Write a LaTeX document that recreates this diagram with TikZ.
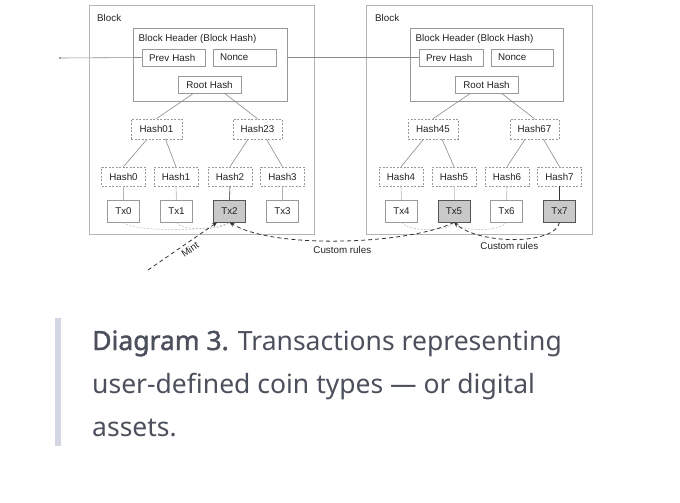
\documentclass[tikz,border=0pt]{standalone}
\usepackage{fontspec}
\setmainfont{Liberation Sans}
\newfontfamily\capfont{Noto Sans}
\newfontfamily\capboldfont{Noto Sans}[FakeBold=1.6]
\usetikzlibrary{calc,arrows.meta}
\definecolor{blkc}{HTML}{B4B4B4}
\definecolor{boxc}{HTML}{9A9A9A}
\definecolor{txtc}{HTML}{222222}
\definecolor{hic}{HTML}{C9C9C9}
\definecolor{hibc}{HTML}{555555}
\definecolor{linec}{HTML}{8A8A8A}
\definecolor{darkc}{HTML}{333333}
\definecolor{barc}{HTML}{D4D7E3}
\definecolor{capc}{HTML}{4B505C}
\begin{document}
\begin{tikzpicture}[x=1pt,y=-1pt,
  base/.style={font=\fontsize{9.8}{11}\selectfont, text=txtc, inner sep=0pt},
  blockbox/.style={base, draw=blkc, line width=0.8pt},
  hdrbox/.style={base, draw=boxc, line width=0.6pt},
  field/.style={base, draw=boxc, line width=0.6pt, minimum height=17pt, align=left, inner xsep=7pt},
  rootbox/.style={base, draw=boxc, line width=0.6pt, minimum height=17pt},
  hashbox/.style={base, draw=boxc, line width=0.6pt, dash pattern=on 2pt off 1.5pt},
  txbox/.style={base, draw=boxc, line width=0.6pt, fill=white, minimum width=32pt, minimum height=22pt},
  txhi/.style={txbox, fill=hic, draw=hibc, line width=0.8pt},
  tline/.style={draw=linec, line width=0.6pt},
  faint/.style={draw=black!28, line width=0.5pt, dash pattern=on 2pt off 1.5pt},
  darr/.style={draw=darkc, line width=0.8pt, dash pattern=on 4pt off 3pt, -{Stealth[length=5pt,width=4pt]}},
  lbl/.style={base, inner sep=1.5pt},
  captext/.style={anchor=base west, inner sep=0pt, font=\capfont\fontsize{26.5}{43}\selectfont, text=capc}
]
\useasboundingbox (0,0) rectangle (680,503);
% blocks
\node[blockbox, minimum width=225pt, minimum height=229pt] (blkL) at (201.5,119.5) {};
\node[blockbox, minimum width=226pt, minimum height=229pt] (blkR) at (479,119.5) {};
\node[base, anchor=west] (blkLt) at (97,18) {Block};
\node[base, anchor=west] (blkRt) at (375,18) {Block};
% headers
\node[hdrbox, minimum width=154pt, minimum height=73pt] (hdL) at (210,64.5) {};
\node[hdrbox, minimum width=153pt, minimum height=73pt] (hdR) at (486.5,64.5) {};
\node[base, anchor=west] (hdLt) at (138.5,39) {Block Header (Block Hash)};
\node[base, anchor=west] (hdRt) at (415.5,39) {Block Header (Block Hash)};
\node[field, text width=49pt] (prevL) at (173.5,57.5) {Prev Hash};
\node[field, text width=49pt] (nonceL) at (244.5,57.5) {Nonce};
\node[field, text width=50pt] (prevR) at (451,57.5) {Prev Hash};
\node[field, text width=48pt] (nonceR) at (522,57.5) {Nonce};
\node[rootbox, minimum width=63pt] (rootL) at (209.5,84.5) {Root Hash};
\node[rootbox, minimum width=63pt] (rootR) at (486.5,84.5) {Root Hash};
% level-1 hashes
\node[hashbox, minimum width=51pt, minimum height=20pt] (h01) at (156.5,129) {Hash01};
\node[hashbox, minimum width=49pt, minimum height=20pt] (h23) at (257.5,129) {Hash23};
\node[hashbox, minimum width=50pt, minimum height=20pt] (h45) at (433,129) {Hash45};
\node[hashbox, minimum width=49pt, minimum height=20pt] (h67) at (534.5,129) {Hash67};
% leaf hashes
\foreach \n/\x in {0/123.5,1/176,2/230,3/282.5,4/401,5/454,6/507,7/559.5}{
  \node[hashbox, minimum width=44pt, minimum height=19pt] (h\n) at (\x,176.5) {Hash\n};
}
% transactions
\node[txbox] (tx0) at (123.5,211) {Tx0};
\node[txbox] (tx1) at (176.5,211) {Tx1};
\node[txhi]  (tx2) at (229.5,211) {Tx2};
\node[txbox] (tx3) at (282.5,211) {Tx3};
\node[txbox] (tx4) at (401.5,211) {Tx4};
\node[txhi]  (tx5) at (454,211) {Tx5};
\node[txbox] (tx6) at (506.5,211) {Tx6};
\node[txhi]  (tx7) at (559.5,211) {Tx7};
% chain links
\coordinate (lin) at (60,58);
\draw[tline] (lin) -- (prevL.west);
\fill[linec] (lin) circle (1.1pt);
\draw[tline] (hdL.east |- prevR.west) -- (prevR.west);
% tree lines
\foreach \r/\a/\b in {rootL/h01/h23, rootR/h45/h67}{
  \draw[tline] ($(\r.south)+(-16,0)$) -- (\a.north);
  \draw[tline] ($(\r.south)+(15,0)$) -- (\b.north);
}
\foreach \p/\a/\b in {h01/h0/h1, h23/h2/h3, h45/h4/h5, h67/h6/h7}{
  \draw[tline] ($(\p.south)+(-9.5,0)$) -- (\a.north);
  \draw[tline] ($(\p.south)+(9,0)$) -- (\b.north);
}
\foreach \i in {0,1,3,4,6}{ \draw[tline, draw=black!30] (h\i.south) -- (tx\i.north); }
\draw[tline, draw=black!18] (h5.south) -- (tx5.north);
\foreach \i in {2,7}{ \draw[tline, draw=darkc] (h\i.south) -- (tx\i.north); }
% faint spending arcs
\draw[faint] (tx0.south) .. controls (130,232) and (215,232) .. (tx2.south);
\draw[faint] (tx1.south) .. controls (182,232) and (222,230) .. (tx2.south);
\draw[faint] (tx4.south) .. controls (408,232) and (448,232) .. (tx5.south);
\draw[faint] (tx6.south) .. controls (500,232) and (460,232) .. (tx5.south);
% mint and custom rules
\coordinate (mintS) at (148,270);
\draw[darr] (mintS) -- node[lbl, sloped, below, pos=0.55, inner sep=3pt] (mintL) {Mint} ([xshift=4pt]tx2.south west);
\draw[darr] (tx5.south) .. controls (410,244) and (275,250) .. node[lbl, below, pos=0.5, inner sep=5pt] (cr1) {Custom rules} (tx2.south);
\draw[darr] (tx7.south) .. controls (555,245) and (480,245) .. node[lbl, below, pos=0.54, inner sep=3pt] (cr2) {Custom rules} (tx5.south);
% caption
\fill[barc] (55,318) rectangle (61,446);
\node[captext] (cap1) at (92,350) {{\capboldfont Diagram 3.} Transactions representing};
\node[captext] (cap2) at (92,393) {user-defined coin types — or digital};
\node[captext] (cap3) at (92,436) {assets.};
\end{tikzpicture}
\end{document}
